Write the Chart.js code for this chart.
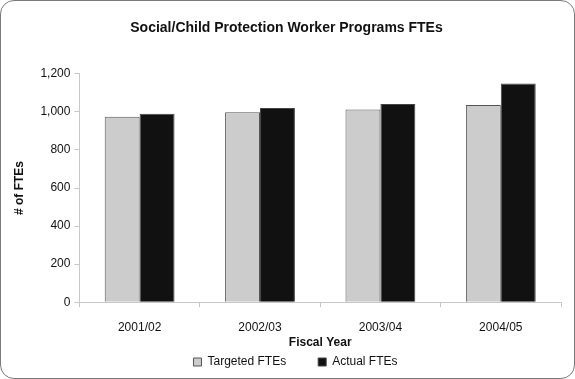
<!DOCTYPE html>
<html>
<head>
<meta charset="utf-8">
<script src="https://cdn.jsdelivr.net/npm/chart.js@4"></script>
<style>
    html, body { margin: 0; padding: 0; background: #fff; }
    #wrap {
        position: relative;
        width: 575px;
        height: 379px;
        box-sizing: border-box;
        border: 1px solid #7a7a7a;
        border-radius: 14px;
        overflow: hidden;
    }
</style>
</head>
<body>
<div id="wrap"><canvas id="fteChart"></canvas></div>
<script>
// Data
const fiscalYears = ['2001/02', '2002/03', '2003/04', '2004/05'];
const targetedFtes = [975, 998, 1012, 1036];
const actualFtes = [990, 1020, 1041, 1149];
const yTicks = [0, 200, 400, 600, 800, 1000, 1200];

// Legend needs wide gaps between items, but labels.padding also adds
// vertical space, so reserve a short box and move/grow it after layout
const legendSpacing = {
    id: 'legendSpacing',
    beforeInit(chart) {
        const legend = chart.legend;
        const fit = legend.fit;
        legend.fit = function () {
            fit.call(this);
            this.height = 28;
        };
    },
    afterLayout(chart) {
        const legend = chart.legend;
        legend.top -= 26;
        legend.height = 52;
        legend.bottom = legend.top + legend.height;
        legend.left += 9;
        legend.right += 9;
    }
};

const ctx = document.getElementById('fteChart').getContext('2d');

new Chart(ctx, {
    type: 'bar',
    data: {
        labels: fiscalYears,
        datasets: [{
            label: 'Targeted FTEs',
            data: targetedFtes,
            backgroundColor: '#cccccc',
            borderColor: '#555555',
            borderWidth: 1
        }, {
            label: 'Actual FTEs',
            data: actualFtes,
            backgroundColor: '#111111',
            borderColor: '#444444',
            borderWidth: 1
        }]
    },
    options: {
        responsive: true,
        maintainAspectRatio: false,
        animation: false,
        categoryPercentage: 0.58,
        barPercentage: 1,
        layout: {
            padding: { left: 11, right: 13, top: 0, bottom: 0 }
        },
        scales: {
            x: {
                grid: {
                    display: true,
                    drawOnChartArea: false,
                    offset: true,
                    color: '#c8c8c8',
                    tickLength: 5
                },
                border: { color: '#c8c8c8' },
                ticks: {
                    color: '#111',
                    padding: 13,
                    font: { family: 'Arial, "Liberation Sans", sans-serif', size: 12 }
                },
                title: {
                    display: true,
                    text: 'Fiscal Year',
                    color: '#111',
                    padding: { top: -12, bottom: 0 },
                    font: { family: 'Arial, "Liberation Sans", sans-serif', size: 12, weight: 'bold' }
                }
            },
            y: {
                min: yTicks[0],
                max: yTicks[yTicks.length - 1],
                afterBuildTicks: axis => {
                    axis.ticks = yTicks.map(v => ({ value: v }));
                },
                grid: {
                    display: true,
                    drawOnChartArea: false,
                    color: '#c8c8c8',
                    tickLength: 5
                },
                border: { color: '#c8c8c8' },
                ticks: {
                    color: '#111',
                    padding: 4,
                    callback: value => value.toLocaleString('en-US'),
                    font: { family: 'Arial, "Liberation Sans", sans-serif', size: 12 }
                },
                title: {
                    display: true,
                    text: '# of FTEs',
                    color: '#111',
                    padding: { top: 0, bottom: 10 },
                    font: { family: 'Arial, "Liberation Sans", sans-serif', size: 12, weight: 'bold' }
                }
            }
        },
        plugins: {
            title: {
                display: true,
                text: 'Social/Child Protection Worker Programs FTEs',
                color: '#111',
                padding: { top: 19, bottom: 37 },
                font: { family: 'Arial, "Liberation Sans", sans-serif', size: 14, weight: 'bold' }
            },
            legend: {
                position: 'bottom',
                labels: {
                    color: '#111',
                    boxWidth: 8,
                    boxHeight: 8,
                    padding: 32,
                    font: { family: 'Arial, "Liberation Sans", sans-serif', size: 12 }
                }
            },
            tooltip: { enabled: false }
        }
    },
    plugins: [legendSpacing]
});
</script>
</body>
</html>
